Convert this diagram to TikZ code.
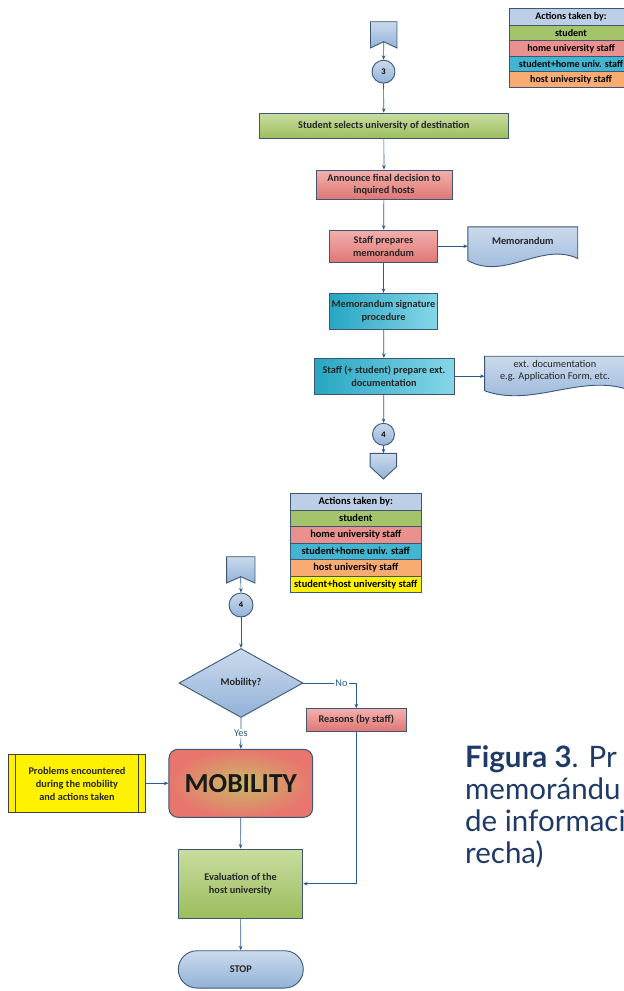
\documentclass[tikz,border=0pt]{standalone}
\usepackage{fontspec}
\setmainfont{Carlito}
\newfontfamily\capfont{Lato}
\usetikzlibrary{arrows.meta, positioning, calc, shapes.geometric}
\pgfdeclarelayer{bg}
\pgfsetlayers{bg,main}
\definecolor{mEdge}{HTML}{3E5674}
\definecolor{mLine}{HTML}{2B5A8C}
\definecolor{mGreenT}{HTML}{C8DDA0}
\definecolor{mGreenB}{HTML}{9CBD5C}
\definecolor{mRedT}{HTML}{F3B0AE}
\definecolor{mRedB}{HTML}{DF7774}
\definecolor{mCyanL}{HTML}{27A6C2}
\definecolor{mCyanR}{HTML}{86D6E8}
\definecolor{mBlueT}{HTML}{CBDAEC}
\definecolor{mBlueB}{HTML}{92B2D8}
\definecolor{mGreen}{HTML}{A3C46A}
\definecolor{mRed}{HTML}{E8918E}
\definecolor{mCyan}{HTML}{42B6D0}
\definecolor{mOrange}{HTML}{F9AC72}
\definecolor{mHead}{HTML}{BCCFE6}
\definecolor{mMobIn}{HTML}{C9BA66}
\definecolor{mMobOut}{HTML}{E8756E}
\definecolor{mCap}{HTML}{1F3A68}

\begin{document}
\begin{tikzpicture}[x=1pt, y=-1pt,
      st/.style={draw=mEdge, line width=0.9pt, align=center, inner sep=0pt,
                 font=\bfseries\fontsize{10.3}{12.5}\selectfont, text=black!85},
      stu/.style={st, top color=mGreenT, bottom color=mGreenB},
      hom/.style={st, top color=mRedT, bottom color=mRedB},
      jnt/.style={st, left color=mCyanL, right color=mCyanR},
      blu/.style={draw=mEdge, line width=0.9pt, top color=mBlueT, bottom color=mBlueB},
      con/.style={circle, blu, minimum size=23pt, inner sep=0pt,
                  font=\bfseries\fontsize{8.5}{10}\selectfont},
      pg/.style={minimum width=26.5pt, minimum height=26.3pt, inner sep=0pt, outer sep=0pt},
      lg/.style={draw=mEdge, line width=0.8pt, minimum width=124pt, minimum height=15.5pt,
                 inner sep=0pt, outer sep=0pt, font=\bfseries\fontsize{10}{12}\selectfont},
      lgb/.style={lg, minimum width=131.7pt, minimum height=16.5pt,
                  font=\bfseries\fontsize{10.4}{12}\selectfont},
      lab/.style={fill=white, inner sep=1pt, font=\fontsize{10.3}{12}\selectfont},
      ar/.style={-{Stealth[length=4.5pt, width=3.6pt]}, mLine, line width=0.7pt}]
    \useasboundingbox (0,0) rectangle (624,991);
    \clip (0,0) rectangle (624,991);

    \node[lg, fill=mHead, minimum height=17pt] (ka) at (571,16.7) {Actions taken by:};
    \node[lg, fill=mGreen, below=0pt of ka]  (kb) {student};
    \node[lg, fill=mRed, below=0pt of kb]    (kc) {home university staff};
    \node[lg, fill=mCyan, below=0pt of kc]   (kd) {student+home univ. staff};
    \node[lg, fill=mOrange, below=0pt of kd] (ke) {host university staff};

    \node[pg] (off3) at (383.7,34.85) {};
    \draw[blu] (off3.north west) -- (off3.north east) -- (off3.south east)
      -- ([yshift=6.3pt]off3.south) -- (off3.south west) -- cycle;
    \coordinate (n3) at ([yshift=6.3pt]off3.south);
    \node[con] (c3) at (383.5,71.7) {3};
    \node[stu, minimum width=249pt, minimum height=25.7pt] (sel) at (383.8,126)
      {Student selects university of destination};
    \node[hom, minimum width=136pt, minimum height=29.3pt] (ann) at (384,184.7)
      {Announce final decision to\\inquired hosts};
    \node[hom, minimum width=108.4pt, minimum height=32.3pt] (prep) at (383.5,246.2)
      {Staff prepares\\memorandum};
    \node[jnt, minimum width=108.4pt, minimum height=35.7pt] (sig) at (383.5,311.2)
      {Memorandum signature\\procedure};
    \node[jnt, minimum width=140pt, minimum height=35.7pt] (ext) at (384,376.2)
      {Staff (+ student) prepare ext.\\documentation};
    \node[st, draw=none, minimum width=109pt, minimum height=26.7pt] (memo) at (522.8,240.7)
      {Memorandum};
    \node[st, draw=none, minimum width=140pt, minimum height=28.6pt,
          font=\fontsize{10.3}{12.3}\selectfont] (extdoc) at (555,371)
      {ext. documentation\\e.g. Application Form, etc.};
    \begin{pgfonlayer}{bg}
      \draw[blu] (memo.north west) -- (memo.north east) -- ([yshift=-4pt]memo.south east)
        .. controls +(-36.3,-17.1) and +(36.3,20.7) .. ([yshift=-6pt]memo.south west) -- cycle;
      \draw[blu] (extdoc.north west) -- (extdoc.north east) -- ([yshift=-3pt]extdoc.south east)
        .. controls +(-46.7,-14) and +(46.7,17) .. ([yshift=-5pt]extdoc.south west) -- cycle;
    \end{pgfonlayer}
    \node[con, minimum size=22pt] (c4a) at (383.5,434.3) {4};
    \node[pg, minimum height=25.7pt] (off4) at (383.4,466.15) {};
    \draw[blu] (off4.north west) -- (off4.north east) -- ([yshift=12.3pt]off4.south east)
      -- (off4.south) -- ([yshift=12.3pt]off4.south west) -- cycle;

    \node[lgb, fill=mHead, minimum height=16.7pt] (la) at (355.8,501.7) {Actions taken by:};
    \node[lgb, fill=mGreen, below=0pt of la]  (lb) {student};
    \node[lgb, fill=mRed, below=0pt of lb]    (lc) {home university staff};
    \node[lgb, fill=mCyan, below=0pt of lc]   (ld) {student+home univ. staff};
    \node[lgb, fill=mOrange, below=0pt of ld] (le) {host university staff};
    \node[lgb, fill=yellow, below=0pt of le]  (lf) {student+host university staff};

    \node[pg, minimum width=28.3pt] (off5) at (240.8,569.85) {};
    \draw[blu] (off5.north west) -- (off5.north east) -- (off5.south east)
      -- ([yshift=6.3pt]off5.south) -- (off5.south west) -- cycle;
    \coordinate (n5) at ([yshift=6.3pt]off5.south);
    \node[con, minimum size=24pt] (c4b) at (241,605) {4};
    \node[diamond, blu, minimum width=124pt, minimum height=69pt, inner sep=0pt,
          font=\bfseries\fontsize{10.3}{12}\selectfont, text=black!85] (dec) at (241,683) {Mobility?};
    \node[hom, minimum width=99.3pt, minimum height=22.3pt] (rea) at (356.3,719.9)
      {Reasons (by staff)};
    \node[draw=mEdge, line width=1pt, rounded corners=9pt, inner color=mMobIn,
          outer color=mMobOut, minimum width=143.7pt, minimum height=68pt,
          font=\bfseries\fontsize{27.5}{30}\selectfont, text=black!90] (mob) at (240.8,783.3) {MOBILITY};
    \node[st, fill=yellow, draw=black!75, minimum width=137.4pt, minimum height=58.4pt,
          font=\bfseries\fontsize{10.3}{13}\selectfont] (prob) at (77,783.5)
      {Problems encountered\\during the mobility\\and actions taken};
    \draw[black!75, line width=0.9pt] ([xshift=7.3pt]prob.north west) -- ([xshift=7.3pt]prob.south west)
      ([xshift=-7.3pt]prob.north east) -- ([xshift=-7.3pt]prob.south east);
    \node[stu, minimum width=124.4pt, minimum height=69.3pt,
          font=\bfseries\fontsize{10.3}{13}\selectfont] (eva) at (240.5,883.7)
      {Evaluation of the\\host university};
    \node[blu, rounded corners=18.6pt, minimum width=125pt, minimum height=37.3pt,
          font=\bfseries\fontsize{10.3}{12}\selectfont, text=black!85] (stop) at (240.8,969.4) {STOP};

    \node[anchor=base west, align=left, inner sep=0pt, text=mCap,
          font=\capfont\fontsize{29.5}{32}\selectfont] (cap) at (465,863)
      {\textbf{Figura 3}. Pr\\memorándu\\de informaci\\recha)};

    \draw[ar] (n3) -- (c3);
    \draw[ar] (c3) -- (sel);
    \draw[ar] (sel) -- (ann);
    \draw[ar] (ann) -- (prep);
    \draw[ar] (prep.east) -- (prep.east -| memo.west);
    \draw[ar] (prep) -- (sig);
    \draw[ar] (sig) -- (ext);
    \draw[ar] (ext.east) -- (ext.east -| extdoc.west);
    \draw[ar] (ext) -- (c4a);
    \draw[ar] (c4a) -- (off4);
    \draw[ar] (n5) -- (c4b);
    \draw[ar] (c4b) -- (dec);
    \draw[ar] (dec.east) -| node[lab, pos=0.36] {No} (rea.north);
    \draw[ar] (dec.south) -- node[lab] {Yes} (mob.north);
    \draw[ar, {Stealth[length=4.5pt, width=3.6pt]}-] (mob.west) -- (mob.west -| prob.east);
    \draw[ar] (mob) -- (eva);
    \draw[ar] (rea.south) |- (eva.east);
    \draw[ar] (eva) -- (stop);
  \end{tikzpicture}
\end{document}
